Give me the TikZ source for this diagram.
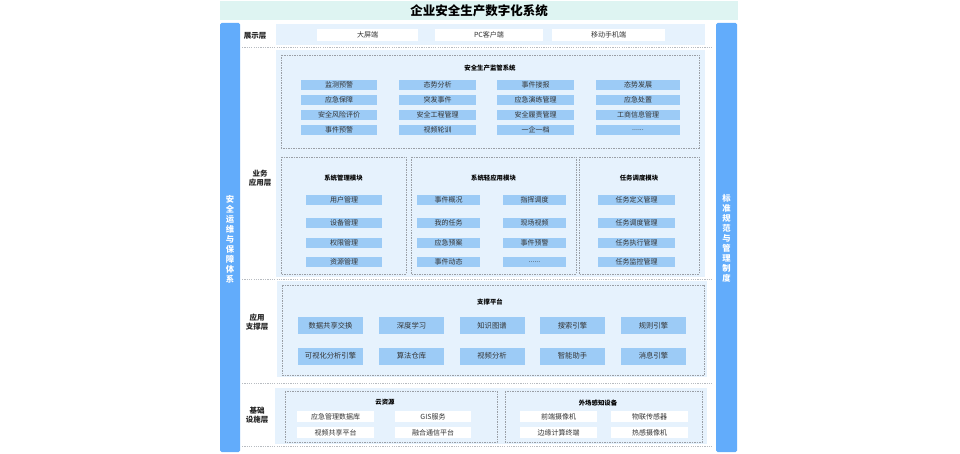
\documentclass[tikz,border=0pt]{standalone}
\usepackage{fontspec}
\setmainfont{Noto Sans CJK SC}
\definecolor{barblue}{HTML}{62ACFB}
\definecolor{midblue}{HTML}{9CCBF6}
\definecolor{lightbg}{HTML}{E6F2FD}
\definecolor{titlebg}{HTML}{DEF4F2}
\definecolor{txt}{HTML}{333333}
\definecolor{dashc}{HTML}{9A9FA6}
\tikzset{
  bar/.style={fill=barblue, rounded corners=1.5pt},
  lbg/.style={fill=lightbg},
  dbox/.style={draw=dashc, line width=0.7pt, dash pattern=on 1.5pt off 1pt},
  sepline/.style={draw=dashc!70, line width=1pt, dash pattern=on 1.2pt off 1.1pt},
  ibox/.style={fill=midblue, inner sep=0pt, minimum height=10pt, text=txt, font=\fontsize{7}{8}\selectfont},
  sbox/.style={ibox, minimum width=65pt, minimum height=17pt, font=\fontsize{7.3}{8}\selectfont},
  wbox/.style={fill=white, inner sep=0pt, minimum height=11pt, text=txt, font=\fontsize{7}{8}\selectfont},
  mtitle/.style={inner sep=0pt, text=black, font=\fontsize{6.4}{7}\selectfont\bfseries},
  layer/.style={inner sep=0pt, align=center, text=black!85, font=\fontsize{7.5}{9.5}\selectfont\bfseries},
  vtext/.style={inner sep=0pt, align=center, text=white, font=\fontsize{8.3}{10}\selectfont\bfseries},
}
\begin{document}
\begin{tikzpicture}[x=1pt,y=-1pt]
\useasboundingbox (0,0) rectangle (960,454);
\fill[white] (0,0) rectangle (960,454);
% title
\fill[titlebg] (220,1) rectangle (738,20);
\node[inner sep=0pt, font=\fontsize{12.5}{14}\selectfont\bfseries] (title) at (479,11) {企业安全生产数字化系统};
% side bars
\fill[bar] (220,23) rectangle (240,452);
\fill[bar] (716,23) rectangle (737,452);
\node[vtext] (lefttext) at (230,239) {安\\全\\运\\维\\与\\保\\障\\体\\系};
\node[vtext] (righttext) at (726.5,238) {标\\准\\规\\范\\与\\管\\理\\制\\度};
% separators
\draw[sepline] (242,48) -- (712,48);
\draw[sepline] (242,279) -- (712,279);
\draw[sepline] (242,383) -- (712,383);
\draw[sepline] (242,446) -- (712,446);
% display layer
\node[layer] (L1) at (255,36) {展示层};
\fill[lbg] (276,24) rectangle (705,45);
\node[wbox, minimum width=101pt, minimum height=12pt] (d1) at (367.5,35) {大屏端};
\node[wbox, minimum width=108pt, minimum height=12pt] (d2) at (489,35) {PC客户端};
\node[wbox, minimum width=113pt, minimum height=12pt] (d3) at (608.5,35) {移动手机端};
% business layer
\node[layer] (L2) at (260,178) {业务\\应用层};
\fill[lbg] (276,50) rectangle (705,277);
\draw[dbox] (281,55) rectangle (699,148);
\node[mtitle] (t1) at (490,68) {安全生产监管系统};
\node[ibox, minimum width=76pt] (a11) at (339,85) {监测预警};
\node[ibox, minimum width=77pt] (a12) at (437.5,85) {态势分析};
\node[ibox, minimum width=77pt] (a13) at (535.5,85) {事件接报};
\node[ibox, minimum width=84pt] (a14) at (638,85) {态势发展};
\node[ibox, minimum width=76pt] (a21) at (339,100) {应急保障};
\node[ibox, minimum width=77pt] (a22) at (437.5,100) {突发事件};
\node[ibox, minimum width=77pt] (a23) at (535.5,100) {应急演练管理};
\node[ibox, minimum width=84pt] (a24) at (638,100) {应急处置};
\node[ibox, minimum width=76pt] (a31) at (339,115) {安全风险评价};
\node[ibox, minimum width=77pt] (a32) at (437.5,115) {安全工程管理};
\node[ibox, minimum width=77pt] (a33) at (535.5,115) {安全履责管理};
\node[ibox, minimum width=84pt] (a34) at (638,115) {工商信息管理};
\node[ibox, minimum width=76pt] (a41) at (339,130) {事件预警};
\node[ibox, minimum width=77pt] (a42) at (437.5,130) {视频轮训};
\node[ibox, minimum width=77pt] (a43) at (535.5,130) {一企一档};
\node[ibox, minimum width=84pt] (a44) at (638,130) {......};
% modules
\draw[dbox] (281,157) rectangle (406,274);
\draw[dbox] (411,157) rectangle (576,274);
\draw[dbox] (579,157) rectangle (699,274);
\node[mtitle] (t2) at (343.5,178) {系统管理模块};
\node[mtitle] (t3) at (493.5,178) {系统轻应用模块};
\node[mtitle] (t4) at (639,178) {任务调度模块};
\node[ibox, minimum width=76pt] (b1) at (344,200) {用户管理};
\node[ibox, minimum width=76pt] (b2) at (344,223) {设备管理};
\node[ibox, minimum width=76pt] (b3) at (344,243) {权限管理};
\node[ibox, minimum width=76pt] (b4) at (344,262) {资源管理};
\node[ibox, minimum width=63pt] (c11) at (448.5,200) {事件概况};
\node[ibox, minimum width=63pt] (c21) at (448.5,223) {我的任务};
\node[ibox, minimum width=63pt] (c31) at (448.5,243) {应急预案};
\node[ibox, minimum width=63pt] (c41) at (448.5,262) {事件动态};
\node[ibox, minimum width=63pt] (c12) at (534.5,200) {指挥调度};
\node[ibox, minimum width=63pt] (c22) at (534.5,223) {现场视频};
\node[ibox, minimum width=63pt] (c32) at (534.5,243) {事件预警};
\node[ibox, minimum width=63pt] (c42) at (534.5,262) {......};
\node[ibox, minimum width=77pt] (e1) at (636.5,200) {任务定义管理};
\node[ibox, minimum width=77pt] (e2) at (636.5,223) {任务调度管理};
\node[ibox, minimum width=77pt] (e3) at (636.5,243) {任务执行管理};
\node[ibox, minimum width=77pt] (e4) at (636.5,262) {任务监控管理};
% support layer
\node[layer] (L3) at (257,322) {应用\\支撑层};
\fill[lbg] (277,281) rectangle (707,377);
\draw[dbox] (282,285) rectangle (704,375);
\node[mtitle] (t5) at (490,302) {支撑平台};
\node[sbox] (s11) at (330.5,325.5) {数据共享交换};
\node[sbox] (s12) at (411.5,325.5) {深度学习};
\node[sbox] (s13) at (492,325.5) {知识图谱};
\node[sbox] (s14) at (572.5,325.5) {搜索引擎};
\node[sbox] (s15) at (653.5,325.5) {规则引擎};
\node[sbox] (s21) at (330.5,356) {可视化分析引擎};
\node[sbox] (s22) at (411.5,356) {算法仓库};
\node[sbox] (s23) at (492,356) {视频分析};
\node[sbox] (s24) at (572.5,356) {智能助手};
\node[sbox] (s25) at (653.5,356) {消息引擎};
% infrastructure layer
\node[layer] (L4) at (257,415) {基础\\设施层};
\fill[lbg] (275,388) rectangle (707,444);
\draw[dbox] (285,391) rectangle (497,442);
\draw[dbox] (505,391) rectangle (702,442);
\node[mtitle] (t6) at (385,402) {云资源};
\node[mtitle] (t7) at (598,403) {外场感知设备};
\node[wbox, minimum width=77pt] (f11) at (335.5,416.5) {应急管理数据库};
\node[wbox, minimum width=76pt] (f12) at (433,416.5) {GIS服务};
\node[wbox, minimum width=77pt] (f21) at (335.5,432.5) {视频共享平台};
\node[wbox, minimum width=76pt] (f22) at (433,432.5) {融合通信平台};
\node[wbox, minimum width=77pt] (g11) at (558.5,416.5) {前端摄像机};
\node[wbox, minimum width=77pt] (g12) at (649.5,416.5) {物联传感器};
\node[wbox, minimum width=77pt] (g21) at (558.5,432.5) {边缘计算终端};
\node[wbox, minimum width=77pt] (g22) at (649.5,432.5) {热感摄像机};
\end{tikzpicture}
\end{document}
